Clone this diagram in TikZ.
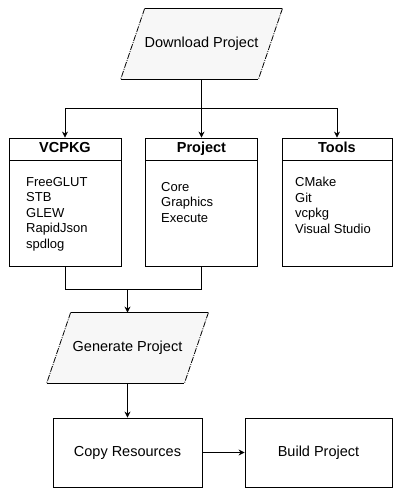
\documentclass[tikz,border=0pt]{standalone}
\usepackage{fontspec}
\setmainfont{Liberation Sans}
\usetikzlibrary{arrows.meta,backgrounds}

\begin{document}
\begin{tikzpicture}[x=1pt,y=1pt,yscale=-1,xscale=1,
    line width=0.8pt,
    every node/.style={inner sep=0.75pt},
    io/.style={minimum width=137pt,minimum height=70pt,text height=10.5pt,text depth=3pt,font=\fontsize{14.5}{17}\selectfont},
    iofill/.style={fill=black!3},
    slant/.style={dash pattern=on 6pt off 1.2pt on 1pt off 1.2pt},
    head/.style={draw,minimum width=112pt,minimum height=22pt,text height=10.5pt,text depth=3pt,font=\bfseries\fontsize{14.5}{17}\selectfont},
    body/.style={draw,minimum width=112pt,minimum height=106pt},
    list/.style={anchor=north west,align=left,font=\fontsize{13}{15.5}\selectfont},
    task/.style={draw,minimum width=149pt,minimum height=69pt,text height=10.5pt,text depth=3pt,font=\fontsize{14.5}{17}\selectfont},
    flow/.style={-{Stealth[length=6pt,width=6pt]}}]
        \useasboundingbox (0,0) rectangle (392,488);

        %Shape: Parallelogram [Download Project]
        \node[io] (dl) at (201.5,44) {Download Project};
        \begin{scope}[on background layer]
            \fill[iofill] ([xshift=12pt]dl.north west) -- ([xshift=12pt]dl.north east) -- ([xshift=-12pt]dl.south east) -- ([xshift=-12pt]dl.south west) -- cycle;
        \end{scope}
        \draw ([xshift=12pt]dl.north west) -- ([xshift=12pt]dl.north east);
        \draw ([xshift=-12pt]dl.south west) -- ([xshift=-12pt]dl.south east);
        \draw[slant] ([xshift=12pt]dl.north west) -- ([xshift=-12pt]dl.south west);
        \draw[slant] ([xshift=12pt]dl.north east) -- ([xshift=-12pt]dl.south east);

        %Shape: Rectangle [VCPKG]
        \node[head] (vcpkg) at (65,149) {VCPKG};
        \node[body] (vcpkgbody) at (65,213) {};
        % Text Node
        \node[list] (vcpkglist) at (25,176) {FreeGLUT\\STB\\GLEW\\RapidJson\\spdlog};

        %Shape: Rectangle [Project]
        \node[head] (proj) at (201.5,149) {Project};
        \node[body] (projbody) at (201.5,213) {};
        % Text Node
        \node[list] (projlist) at (160,181) {Core\\Graphics\\Execute};

        %Shape: Rectangle [Tools]
        \node[head,minimum width=110pt] (tools) at (337,149) {Tools};
        \node[body,minimum width=110pt] (toolsbody) at (337,213) {};
        % Text Node
        \node[list] (toolslist) at (294,176) {CMake\\Git\\vcpkg\\Visual Studio};

        %Shape: Parallelogram [Generate Project]
        \node[io] (gen) at (127.5,348) {Generate Project};
        \begin{scope}[on background layer]
            \fill[iofill] ([xshift=12pt]gen.north west) -- ([xshift=12pt]gen.north east) -- ([xshift=-12pt]gen.south east) -- ([xshift=-12pt]gen.south west) -- cycle;
        \end{scope}
        \draw ([xshift=12pt]gen.north west) -- ([xshift=12pt]gen.north east);
        \draw ([xshift=-12pt]gen.south west) -- ([xshift=-12pt]gen.south east);
        \draw[slant] ([xshift=12pt]gen.north west) -- ([xshift=-12pt]gen.south west);
        \draw[slant] ([xshift=12pt]gen.north east) -- ([xshift=-12pt]gen.south east);

        %Shape: Rectangle [Copy / Build]
        \node[task] (copy) at (127.5,452.5) {Copy Resources};
        \node[task,minimum width=147pt] (build) at (318.5,452.5) {Build Project};

        %Straight Lines
        \coordinate (split) at (201.5,108);
        \coordinate (merge) at (127.5,289);
        \draw (dl.south) -- (split);
        \draw[flow] (split) -| (vcpkg.north);
        \draw[flow] (split) -- (proj.north);
        \draw[flow] (split) -| (tools.north);
        \draw (vcpkgbody.south) |- (merge);
        \draw (projbody.south) |- (merge);
        \draw[flow] (merge) -- (gen.north);
        \draw[flow] (gen.south) -- (copy.north);
        \draw[flow] (copy.east) -- (build.west);

\end{tikzpicture}
\end{document}
